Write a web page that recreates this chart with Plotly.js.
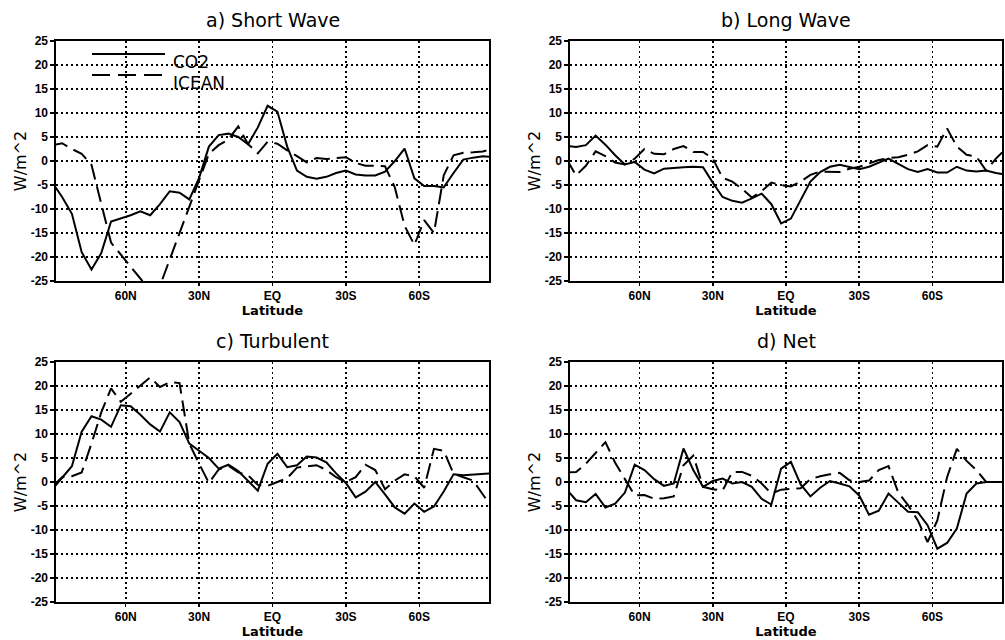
<!DOCTYPE html>
<html>
<head>
<meta charset="utf-8">
<script src="https://cdn.plot.ly/plotly-3.0.1.min.js"></script>
<style>
html,body{margin:0;padding:0;background:#fff;}
#chart{width:1005px;height:640px;}
</style>
</head>
<body>
<div id="chart"></div>
<script>
// Latitudes (N positive), 4-degree grid
const lats = [90,86,82,78,74,70,66,62,58,54,50,46,42,38,34,30,26,22,18,14,10,6,2,
              -2,-6,-10,-14,-18,-22,-26,-30,-34,-38,-42,-46,-50,-54,-58,-62,-66,-70,-74,-78,-82,-86,-90];

// a) Short Wave
const swCO2 = [-4.5,-7.5,-11,-19,-22.6,-19.2,-12.6,-12,-11.3,-10.5,-11.3,-9,-6.3,-6.6,-8,-3.5,3,5.4,5.7,5,3.5,7,11.5,
               10.3,3,-2,-3.3,-3.7,-3.3,-2.5,-2,-2.8,-3,-3,-2.2,0,2.6,-3.6,-5.2,-5.2,-5.5,-2.5,0.3,0.7,1,0.8];
const swICEAN = [3.3,3.7,2.5,1.5,-0.8,-9,-17,-19.5,-22,-24.7,-27,-26,-20.5,-15,-9.6,-4,1.5,3.3,4.5,7.2,3.5,1.6,4,
                 3.6,2.2,1,-0.3,0.6,0.4,0.6,0.8,-0.4,-1,-1,-1.1,-5.5,-13.5,-17.5,-12.3,-15,-3,1.2,1.7,1.8,2,2.5];

// b) Long Wave
const lwCO2 = [3.2,2.9,3.3,5.3,3.4,1.2,-0.7,-0.2,-1.8,-2.6,-1.6,-1.4,-1.3,-1.2,-1.3,-4.5,-7.5,-8.3,-8.7,-7.8,-6.8,-9,-13,
               -12,-8,-4.3,-2.3,-1.2,-0.8,-1.3,-1.7,-1.2,-0.3,0.5,-0.6,-1.7,-2.3,-1.7,-2.4,-2.4,-1.2,-2,-2.2,-2,-2.5,-2.8];
const lwICEAN = [0.5,-3,-1,2,1,-0.3,-0.7,0.5,2.5,1.5,1.4,2.5,3.1,1.9,1.9,0.5,-3.5,-4.3,-5.8,-7.6,-6.3,-4.5,-5,
                 -5.3,-4.3,-2.9,-2.2,-2.2,-2.3,-1.6,-1.2,-0.5,0.2,0.6,0.8,1.3,2,3.3,3,6.8,3,1.3,0.9,-2,0.5,2.5];

// c) Turbulent
const tbCO2 = [-1.5,0.8,3.3,10.5,13.7,13,11.5,16,15.8,14,12,10.5,14.5,12.5,8,6.5,5,2.8,3.6,2.3,0.3,-1.8,3.8,
               5.9,3.1,3.5,5.3,5.1,4.1,1.8,-0.2,-3.2,-2,0,-2.6,-5.3,-6.6,-4.5,-6.2,-5.1,-2,1.6,1.4,1.5,1.6,1.8];
const tbICEAN = [-1,1,1.2,2,8,14.5,19.5,16.7,18.4,20.2,21.8,19.8,20.8,20.6,8,3.8,-0.2,2.6,3.4,2,1.4,-0.6,-0.8,
                 0,0.8,3,3.2,3.5,2.5,1,0,1,3.6,2.5,-1.5,0.3,1.6,1.2,-1.2,6.9,6.5,1.7,1,0.3,-2.6,-5.5];

// d) Net
const netCO2 = [-1.5,-3.8,-4.2,-2.5,-5.3,-4.5,-2.2,3.6,2.5,0.6,-0.8,-0.3,7,2.5,-1,0.2,0.7,-0.3,0,-1,-3.5,-4.7,2.8,
                4.2,-0.5,-3,-1.2,0.2,-0.3,-0.9,-2.8,-6.8,-6,-2.4,-4.3,-6.2,-6.3,-9,-13.9,-12.7,-9.7,-2.4,-0.3,0,0,0];
const netICEAN = [2,2.1,3.8,6,8.3,4,0.5,-2.8,-2.7,-3.5,-3.4,-3,3.5,5.5,-1,-1.5,-1.8,2.1,2.1,1.3,-0.3,-2.4,-1.6,
                  -1.4,-1.3,0.6,1.2,1.6,1.9,0.35,0,0.3,2.5,3.3,-2.2,-4.8,-8,-12.5,-8,1,6.9,4.4,2.5,0,0,0];

const panelTitles = ['a) Short Wave','b) Long Wave','c) Turbulent','d) Net'];
const seriesNames = ['CO2','ICEAN'];
const xTickVals = [60,30,0,-30,-60];
const xTickText = ['60N','30N','EQ','30S','60S'];
const yTickVals = [25,20,15,10,5,0,-5,-10,-15,-20,-25];
const yTickText = ['25','20','15','10','5','0','-5','-10','-15','-20','-25'];

const W = 1005, H = 640;
const px = v => v / W;
const py = v => 1 - v / H;

const panels = [
  {co2: swCO2, ice: swICEAN, xd:[56,489], yd:[41,281]},
  {co2: lwCO2, ice: lwICEAN, xd:[570,1002], yd:[41,281]},
  {co2: tbCO2, ice: tbICEAN, xd:[56,489], yd:[362,602]},
  {co2: netCO2, ice: netICEAN, xd:[570,1002], yd:[362,602]}
];

const tickFont = {family:'Liberation Sans, Arial, sans-serif', size:12, weight:'bold', color:'#000'};
const data = [];
const layout = {
  width: W, height: H,
  margin:{l:0,r:0,t:0,b:0},
  paper_bgcolor:'#fff', plot_bgcolor:'#fff',
  showlegend:false,
  shapes:[], annotations:[]
};

panels.forEach((p, i) => {
  const n = i === 0 ? '' : String(i+1);
  const xa = 'x' + n, ya = 'y' + n;
  data.push({x: lats, y: p.co2, xaxis: xa, yaxis: ya, type:'scatter', mode:'lines', name: seriesNames[0],
             line:{color:'#000', width:2}});
  data.push({x: lats, y: p.ice, xaxis: xa, yaxis: ya, type:'scatter', mode:'lines', name: seriesNames[1],
             line:{color:'#000', width:2, dash:'16px,7px'}});
  layout['xaxis' + n] = {
    domain:[px(p.xd[0]), px(p.xd[1])], anchor: ya,
    range:[88.5,-88.5], tickmode:'array', tickvals:xTickVals, ticktext:xTickText,
    showgrid:true, gridcolor:'#000', griddash:'2px,3px', gridwidth:1.6,
    zeroline:false, showline:true, mirror:true, linecolor:'#000', linewidth:1.6,
    ticks:'outside', ticklen:3, tickwidth:1.5, tickcolor:'#000', tickfont:tickFont,
    title:{text:'Latitude', standoff:1, font:{family:'DejaVu Sans, sans-serif', size:13, weight:'bold', color:'#000'}}
  };
  layout['yaxis' + n] = {
    domain:[py(p.yd[1]), py(p.yd[0])], anchor: xa,
    range:[-25,25], tickmode:'array', tickvals:yTickVals, ticktext:yTickText,
    showgrid:true, gridcolor:'#000', griddash:'2px,3px', gridwidth:1.6,
    zeroline:false, showline:true, mirror:true, linecolor:'#000', linewidth:1.6,
    ticks:'outside', ticklen:4, tickwidth:1.5, tickcolor:'#000', tickfont:tickFont,
    title:{text:'W/m^2', standoff:0, font:{family:'DejaVu Sans, sans-serif', size:16, color:'#000'}}
  };
  layout.annotations.push({
    text: panelTitles[i], xref:'paper', yref:'paper',
    x: px((p.xd[0]+p.xd[1])/2), y: py(p.yd[0]-21), xanchor:'center', yanchor:'middle',
    showarrow:false, font:{family:'DejaVu Sans, sans-serif', size:19, color:'#000'}
  });
});

// legend (panel a)
layout.shapes.push({type:'line', xref:'paper', yref:'paper', x0:px(92), x1:px(165), y0:py(54), y1:py(54),
                    line:{color:'#000', width:2}});
layout.shapes.push({type:'line', xref:'paper', yref:'paper', x0:px(92), x1:px(165), y0:py(75), y1:py(75),
                    line:{color:'#000', width:2, dash:'18px,8px'}});
layout.annotations.push({text: seriesNames[0], xref:'paper', yref:'paper', x:px(171), y:py(62),
                         xanchor:'left', yanchor:'middle', showarrow:false,
                         font:{family:'DejaVu Sans, sans-serif', size:17, color:'#000'}});
layout.annotations.push({text: seriesNames[1], xref:'paper', yref:'paper', x:px(171), y:py(83),
                         xanchor:'left', yanchor:'middle', showarrow:false,
                         font:{family:'DejaVu Sans, sans-serif', size:17, color:'#000'}});

Plotly.newPlot('chart', data, layout, {staticPlot:true, displayModeBar:false});
</script>
</body>
</html>
